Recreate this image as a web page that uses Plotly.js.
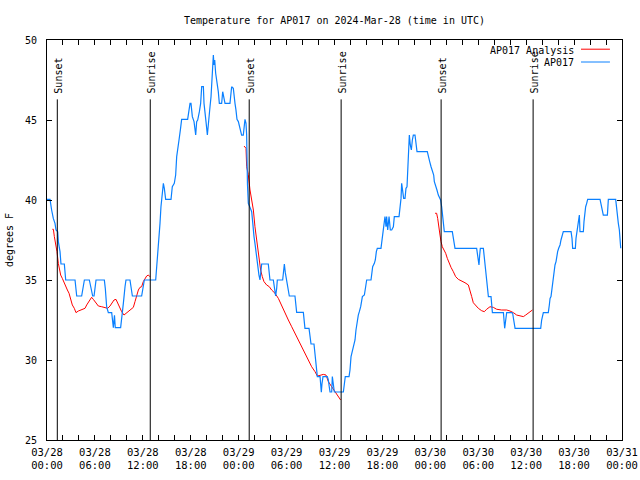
<!DOCTYPE html>
<html>
<head>
<meta charset="utf-8">
<script src="https://cdn.plot.ly/plotly-3.0.1.min.js"></script>
<style>html,body{margin:0;padding:0;background:#fff;}#chart{width:640px;height:480px;}</style>
</head>
<body>
<div id="chart"></div>
<script>
// ---- data (hours after 2024-03-28 00:00 UTC, degrees F) ----
var obsHours = [0,0.38,0.58,0.67,0.79,1.0,1.13,1.34,1.42,1.63,1.75,2.17,2.25,2.34,3.51,3.62,3.72,4.34,4.5,4.68,5.30,5.5,5.72,5.89,6.0,6.14,7.18,7.3,7.47,7.68,8.1,8.31,8.45,8.55,9.22,9.35,9.56,9.77,9.89,10.39,10.52,10.69,11.85,11.98,12.19,13.61,
13.73,13.86,14.02,14.15,14.27,14.44,14.57,14.69,14.86,15.53,15.69,15.94,16.11,16.24,16.36,16.53,16.70,16.86,17.61,17.78,17.91,18.03,18.2,18.41,18.62,18.74,18.87,19.08,19.24,19.37,19.58,19.66,19.78,19.91,20.08,20.2,20.41,20.54,20.7,20.83,20.91,21.0,21.12,21.33,21.45,21.58,21.87,22.0,22.16,22.29,22.91,22.99,23.12,23.33,23.41,23.54,23.66,23.79,23.96,24.17,24.37,24.58,24.71,24.79,24.92,25.0,25.1,25.21,25.45,25.63,25.75,25.83,25.92,26.04,26.17,26.25,26.38,26.54,26.67,26.75,26.88,27.71,27.84,27.92,28.34,28.47,28.63,28.76,28.84,29.51,29.59,29.72,29.84,30.01,30.22,30.34,31.05,31.26,32.1,32.3,32.81,32.93,33.06,33.43,33.56,33.68,33.77,33.85,34.19,34.35,34.43,34.56,35.1,35.23,35.31,35.44,35.65,35.73,35.85,35.98,37.11,37.23,37.35,37.82,37.94,38.07,38.24,38.36,38.57,38.69,38.86,38.98,39.11,39.28,39.49,39.74,39.90,40.03,40.57,40.65,40.78,40.99,41.11,41.24,41.36,41.82,41.91,42.03,42.16,42.32,42.45,42.53,42.66,42.83,42.99,43.16,43.37,43.49,44.08,44.20,44.33,44.41,44.54,44.66,44.83,44.95,45.08,45.16,45.24,45.37,45.49,45.62,45.75,45.87,46.08,46.20,46.33,47.62,47.75,47.92,48.09,48.25,48.42,48.50,48.67,48.83,49.0,49.13,49.29,49.42,49.5,49.63,49.75,50.75,50.88,51.09,53.80,53.93,54.01,54.09,54.18,54.26,54.64,54.76,54.85,55.05,55.18,55.27,55.6,55.68,55.77,57.15,57.23,57.31,57.44,57.56,58.19,58.31,58.44,58.61,61.82,61.94,62.15,62.77,62.9,62.99,63.11,63.24,63.4,63.53,63.61,63.74,63.82,63.94,64.07,64.24,64.36,64.53,64.65,65.62,65.74,65.82,66.16,66.24,66.37,66.49,66.58,66.66,66.74,67.16,67.24,67.33,67.45,67.58,67.7,69.25,69.37,69.5,69.66,70.17,70.29,71.21,71.29,71.42,71.54,71.67,71.75,71.84];
var obsTemps = [40.04,40.04,39.375,39.06,38.85,38.54,38.125,38.02,37.4,36.77,36.0,36.0,35.52,35.0,35.0,34.48,34.0,34.0,34.48,35.0,35.0,34.48,34.0,34.0,34.48,35.0,35.0,34.48,33.33,32.96,32.96,32.02,32.8,32.02,32.02,32.5,33.54,34.58,35.0,35.0,34.48,34.0,34.0,34.48,35.0,35.0,
35.73,36.25,37.5,38.54,39.58,40.42,41.04,40.73,40.04,40.04,40.83,41.04,41.56,42.71,43.33,43.75,44.38,45.04,45.04,45.73,46.04,46.04,45.21,44.9,44.06,44.9,45.0,45.52,46.04,47.08,47.08,46.04,45.63,44.9,44.06,44.9,45.83,46.46,47.71,49.06,48.44,48.75,47.92,47.29,46.77,46.04,46.04,46.77,46.35,46.04,46.04,46.67,47.08,46.98,46.35,46.04,45.63,45.04,44.9,44.38,44.06,44.06,44.9,45.04,44.79,44.06,41.0,39.79,39.5,39.27,38.65,38.02,37.71,37.29,36.77,36.35,35.73,35.31,35.0,35.52,36.0,36.0,35.46,35.0,35.0,34.48,34.0,34.48,35.0,35.0,35.52,36.0,35.46,35.0,34.48,34.0,34.0,32.98,32.98,31.98,31.98,31.46,31.0,31.0,30.2,29.96,29.4,28.96,28.96,27.98,28.5,28.96,28.96,28.75,28.44,28.0,28.0,28.96,28.5,28.0,28.0,28.54,28.96,28.96,29.375,30.21,30.625,30.94,31.25,31.875,32.5,32.81,33.02,33.33,33.96,34.06,34.58,35.0,35.0,35.42,35.83,36.04,36.25,36.77,36.98,36.98,37.29,37.71,38.33,38.96,38.33,38.96,38.125,38.96,38.125,38.125,38.33,38.96,38.96,39.58,40.1,41.04,40.625,40.1,40.1,40.73,40.83,41.875,43.33,44.06,43.44,43.125,43.75,44.06,44.06,43.54,43.02,43.02,42.81,42.4,42.08,41.875,41.56,41.15,40.94,40.625,40.31,40.1,40.0,39.58,39.06,38.65,38.02,38.02,37.5,36.98,36.98,36.56,36.2,35.94,36.56,36.98,36.98,36.46,35.83,35.0,34.48,33.96,33.96,33.44,32.96,32.96,32.5,31.98,32.5,32.96,32.96,32.92,32.5,31.98,31.98,32.5,32.96,32.96,33.44,33.85,33.96,34.58,35.0,35.625,35.94,36.15,36.46,36.77,36.98,37.19,37.5,37.81,38.02,38.02,37.6,36.98,36.98,37.6,38.125,38.65,38.85,39.06,38.02,38.02,38.65,39.17,39.58,39.79,40.04,40.04,39.69,39.375,39.06,39.06,40.04,40.04,39.58,38.85,38.54,38.125,37.5,36.98];

var anaHours = [0.67,0.8,0.92,1.085,1.25,1.42,1.54,1.71,1.92,2.13,2.34,2.55,2.76,2.96,3.17,3.42,3.63,3.92,4.34,4.76,4.97,5.18,5.38,5.59,5.80,6.01,6.22,6.43,6.85,7.26,7.6,7.89,8.1,8.39,8.64,8.85,9.14,9.35,9.64,9.98,10.39,10.81,11.02,11.23,11.44,11.64,11.85,12.06,12.27,12.48,12.69,12.9,
null,
24.67,24.92,25.0,25.2,25.42,25.63,25.84,26.04,26.25,26.46,26.59,26.75,26.96,27.17,27.5,27.84,28.13,28.55,28.97,29.39,29.8,30.22,30.64,31.05,31.47,31.89,32.3,32.72,33.14,33.56,33.85,34.18,34.6,34.94,35.23,35.65,36.06,36.48,36.77,
null,
48.59,48.79,48.92,49.08,49.21,49.34,49.5,49.71,49.92,50.13,50.34,50.59,50.88,51.17,51.51,51.92,52.34,52.76,52.97,53.18,53.38,53.59,54.01,54.43,54.76,55.05,55.47,55.89,56.31,56.93,57.56,57.98,58.4,58.81,59.23,59.65,59.94,60.28,60.57,60.78];
var anaTemps = [38.17,38.17,37.71,37.29,36.77,36.04,35.625,35.31,35.1,34.83,34.58,34.375,34.17,33.75,33.44,33.23,32.96,33.06,33.17,33.23,33.44,33.58,33.75,33.92,33.79,33.65,33.5,33.375,33.33,33.29,33.23,33.375,33.54,33.75,33.79,33.54,33.29,33.02,32.81,32.96,33.125,33.29,33.65,34.06,34.375,34.54,34.58,34.9,35.1,35.25,35.31,35.2,
null,
43.375,43.23,42.08,41.6,40.625,40.0,39.375,38.33,37.5,36.67,36.04,35.625,35.21,34.9,34.69,34.58,34.375,34.17,33.85,33.375,32.92,32.5,32.08,31.67,31.25,30.83,30.42,29.9,29.58,29.27,29.0,29.04,29.1,29.06,28.65,28.33,28.02,27.71,27.5,
null,
39.17,39.17,38.85,38.125,37.81,37.4,37.08,36.875,36.67,36.35,36.04,35.79,35.52,35.21,35.04,34.96,34.83,34.69,34.375,33.96,33.58,33.44,33.23,33.08,33.02,33.17,33.33,33.29,33.17,33.125,33.125,33.06,32.96,32.81,32.75,32.71,32.81,32.96,33.06,33.125];

var sunHours = [1.29, 12.93, 25.32, 36.83, 49.35, 60.87];
var sunLabels = ['Sunset','Sunrise','Sunset','Sunrise','Sunset','Sunrise'];
var sunLineTop = 46.29;

var seriesNames = ['AP017 Analysis', 'AP017'];
var chartTitle = 'Temperature for AP017 on 2024-Mar-28 (time in UTC)';
var yTitle = 'degrees F';

// ---- helpers ----
var BASE = Date.UTC(2024, 2, 28, 0, 0, 0);
function toDate(h) {
  if (h === null) return null;
  var d = new Date(BASE + Math.round(h * 3600000));
  return d.toISOString().slice(0, 19).replace('T', ' ');
}

var FONT = 'DejaVu Sans Mono, monospace';
var RED = '#ff0000';
var BLUE = '#0a80ff';

var traces = [
  {x: anaHours.map(toDate), y: anaTemps, type: 'scatter', mode: 'lines', name: seriesNames[0],
   line: {color: RED, width: 1}, connectgaps: false, hoverinfo: 'skip'},
  {x: obsHours.map(toDate), y: obsTemps, type: 'scatter', mode: 'lines', name: seriesNames[1],
   line: {color: BLUE, width: 1.2}, hoverinfo: 'skip'}
];

var shapes = sunHours.map(function (h) {
  return {type: 'line', xref: 'x', yref: 'y', x0: toDate(h), x1: toDate(h), y0: 25, y1: sunLineTop,
          line: {color: '#000', width: 1}};
});
var annotations = sunHours.map(function (h, i) {
  return {x: toDate(h), y: sunLineTop, xref: 'x', yref: 'y', text: sunLabels[i], showarrow: false,
          textangle: -90, xanchor: 'center', yanchor: 'bottom', yshift: 4, xshift: 1,
          font: {family: FONT, size: 10, color: '#000'}};
});

// custom legend (text right-aligned, sample line to the right)
var legendY = [0.975, 0.943];
var legendColors = [RED, BLUE];
seriesNames.forEach(function (n, i) {
  annotations.push({xref: 'paper', yref: 'paper', x: 0.9195, y: legendY[i], text: n, showarrow: false,
    xanchor: 'right', yanchor: 'middle', font: {family: FONT, size: 10, color: '#000'}});
  shapes.push({type: 'line', xref: 'paper', yref: 'paper', x0: 0.9287, x1: 0.979,
    y0: legendY[i] + 0.002, y1: legendY[i] + 0.002, line: {color: legendColors[i], width: 1}});
});

var layout = {
  width: 640, height: 480,
  margin: {l: 47, r: 18, t: 40, b: 40, pad: 0},
  paper_bgcolor: '#fff', plot_bgcolor: '#fff',
  showlegend: false,
  title: {text: chartTitle, x: 0.5, xref: 'paper', y: 1 - 20 / 480, yref: 'container', yanchor: 'middle',
          font: {family: FONT, size: 10, color: '#000'}},
  font: {family: FONT, size: 10, color: '#000'},
  xaxis: {
    type: 'date', range: [toDate(0), toDate(72)],
    tick0: toDate(0), dtick: 6 * 3600000, tickformat: '%m/%d<br>%H:%M',
    ticks: 'inside', ticklen: 5, tickcolor: '#000', tickwidth: 1,
    minor: {dtick: 2 * 3600000, ticks: 'inside', ticklen: 5, tickcolor: '#000', tickwidth: 1, showgrid: false},
    showline: true, linecolor: '#000', linewidth: 1, mirror: 'ticks',
    showgrid: false, zeroline: false, fixedrange: true,
    ticklabelstandoff: 2,
    tickfont: {family: FONT, size: 10.5, color: '#000'}
  },
  yaxis: {
    range: [25, 50], tick0: 25, dtick: 5,
    ticks: 'inside', ticklen: 5, tickcolor: '#000', tickwidth: 1,
    showline: true, linecolor: '#000', linewidth: 1, mirror: 'ticks',
    showgrid: false, zeroline: false, fixedrange: true,
    ticklabelstandoff: 7,
    tickfont: {family: FONT, size: 10, color: '#000'},
    title: {text: yTitle, standoff: 9, font: {family: FONT, size: 10, color: '#000'}}
  },
  shapes: shapes,
  annotations: annotations
};

Plotly.newPlot('chart', traces, layout, {displayModeBar: false, staticPlot: true});
</script>
</body>
</html>
